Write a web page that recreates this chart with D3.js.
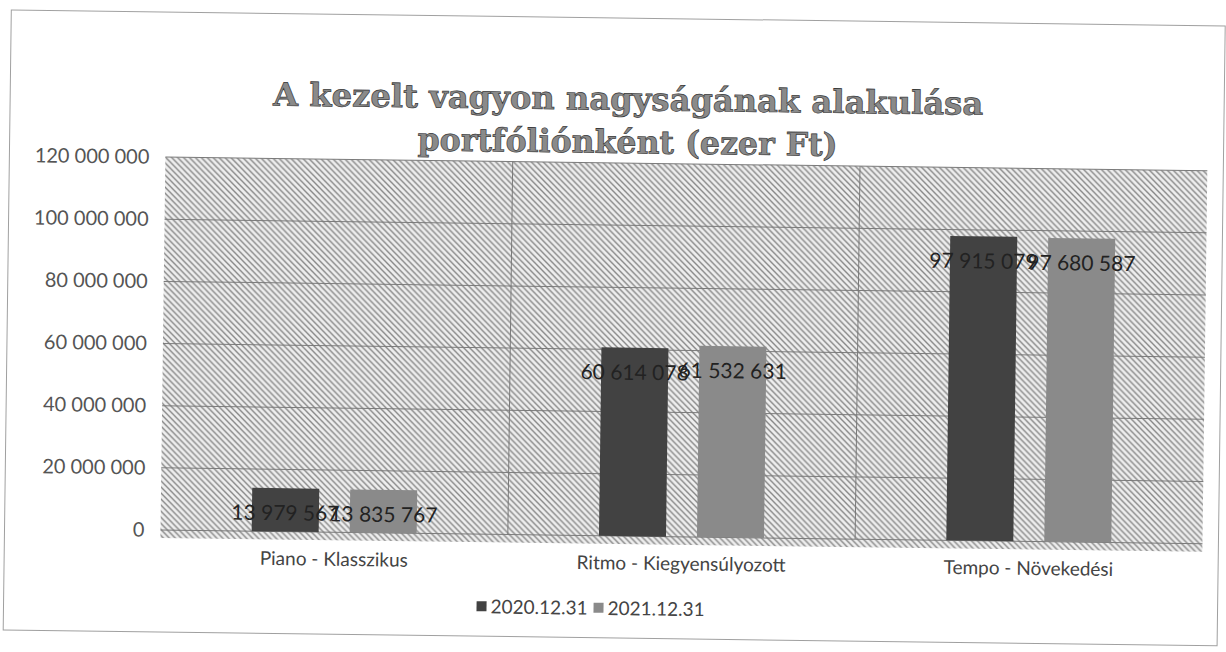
<!DOCTYPE html>
<html><head><meta charset="utf-8">
<script src="https://cdn.jsdelivr.net/npm/d3@7"></script>
<style>html,body{margin:0;padding:0;background:#fff;}svg{display:block;}</style>
</head><body>
<svg id="c" width="1226" height="652"></svg>
<script>
const categories = ["Piano - Klasszikus", "Ritmo - Kiegyensúlyozott", "Tempo - Növekedési"];
const seriesNames = ["2020.12.31", "2021.12.31"];
const values2020 = [13979567, 60614078, 97915079];
const values2021 = [13835767, 61532631, 97680587];
const yTicks = [0, 20000000, 40000000, 60000000, 80000000, 100000000, 120000000];
const titleLines = ["A kezelt vagyon nagyságának alakulása", "portfóliónként (ezer Ft)"];

const svg = d3.select("#c");
const defs = svg.append("defs");
const hatch = defs.append("pattern").attr("id","hatch").attr("patternUnits","userSpaceOnUse")
  .attr("width",6).attr("height",6);
hatch.append("rect").attr("width",6).attr("height",6).attr("fill","#eeeeee");
hatch.append("path").attr("d","M-1,-1 L7,7 M-1,5 L1,7 M5,-1 L7,1").attr("stroke","#888").attr("stroke-width",1.4);

const g = svg.append("g").attr("transform","rotate(0.75,160,340)");

// outer border
g.append("rect").attr("x",7).attr("y",12).attr("width",1214).attr("height",620)
  .attr("fill","none").attr("stroke","#a0a0a0").attr("stroke-width",1);

const pLeft = 163, pRight = 1205, pTop = 157, pBottom = 530;
const x0 = d3.scaleBand().domain(categories).range([pLeft,pRight]).padding(0);
const bw = x0.bandwidth();
const x1 = d3.scaleBand().domain(seriesNames).range([bw/2-82.5, bw/2+82.5]).paddingInner(0.316).paddingOuter(0);
const y = d3.scaleLinear().domain([0,120000000]).range([pBottom,pTop]);

// plot area
g.append("rect").attr("x",pLeft).attr("y",pTop).attr("width",pRight-pLeft).attr("height",pBottom-pTop+8)
  .attr("fill","url(#hatch)");

// horizontal gridlines
g.append("g").selectAll("line").data(yTicks).join("line")
  .attr("x1",pLeft).attr("x2",pRight).attr("y1",d=>y(d)).attr("y2",d=>y(d))
  .attr("stroke","#7a7a7a").attr("stroke-width",1);
// vertical gridlines at category boundaries
g.append("g").selectAll("line").data(categories.slice(1)).join("line")
  .attr("x1",d=>x0(d)).attr("x2",d=>x0(d)).attr("y1",pTop).attr("y2",pBottom)
  .attr("stroke","#7a7a7a").attr("stroke-width",1);

// y axis labels
const yAxis = d3.axisLeft(y).tickValues(yTicks).tickSize(0).tickPadding(0)
  .tickFormat(d => d3.format(",")(d).replace(/,/g," "));
const ya = g.append("g").attr("transform",`translate(147,0)`).call(yAxis);
ya.select(".domain").remove();
ya.selectAll("text").attr("font-family","Lato").attr("font-size",20).attr("fill","#555");

// x axis labels
const xAxis = d3.axisBottom(x0).tickSize(0).tickPadding(0);
const xa = g.append("g").attr("transform",`translate(0,${pBottom+20})`).call(xAxis);
xa.select(".domain").remove();
xa.selectAll("text").attr("font-family","Lato").attr("font-size",19).attr("fill","#444");

// bars
const colors = {"2020.12.31":"#424242","2021.12.31":"#8a8a8a"};
const data = categories.map((c,i)=>({cat:c, vals:[{s:seriesNames[0],v:values2020[i]},{s:seriesNames[1],v:values2021[i]}]}));
const grp = g.append("g").selectAll("g").data(data).join("g").attr("transform",d=>`translate(${x0(d.cat)},0)`);
grp.selectAll("rect").data(d=>d.vals).join("rect")
  .attr("x",d=>x1(d.s)).attr("width",x1.bandwidth())
  .attr("y",d=>y(d.v)).attr("height",d=>pBottom-y(d.v))
  .attr("fill",d=>colors[d.s]);
grp.selectAll("text").data(d=>d.vals).join("text")
  .attr("x",d=>x1(d.s)+x1.bandwidth()/2)
  .attr("y",d=>Math.min(y(d.v)+32, pBottom-4))
  .attr("text-anchor","middle").attr("font-family","Lato").attr("font-size",21).attr("fill","#222")
  .text(d=>d3.format(",")(d.v).replace(/,/g," "));

// legend
const lg = g.append("g").attr("transform","translate(480,603)");
const li = lg.selectAll("g").data(seriesNames).join("g").attr("transform",(d,i)=>`translate(${i*117},0)`);
li.append("rect").attr("x",0).attr("y",-6).attr("width",10).attr("height",10).attr("fill",d=>colors[d]);
li.append("text").attr("x",14).attr("y",6).attr("font-family","Lato").attr("font-size",19).attr("fill","#444").text(d=>d);

// title
g.append("g").selectAll("text").data(titleLines).join("text")
  .attr("x",625).attr("y",(d,i)=>104+i*43)
  .attr("text-anchor","middle")
  .attr("font-family","DejaVu Serif").attr("font-weight","bold").attr("font-size",32)
  .attr("textLength",(d,i)=>i===0?710:420).attr("lengthAdjust","spacingAndGlyphs")
  .attr("fill","#8a8a8a").attr("stroke","#3a3a3a").attr("stroke-width",0.7)
  .text(d=>d);
</script>
</body></html>
